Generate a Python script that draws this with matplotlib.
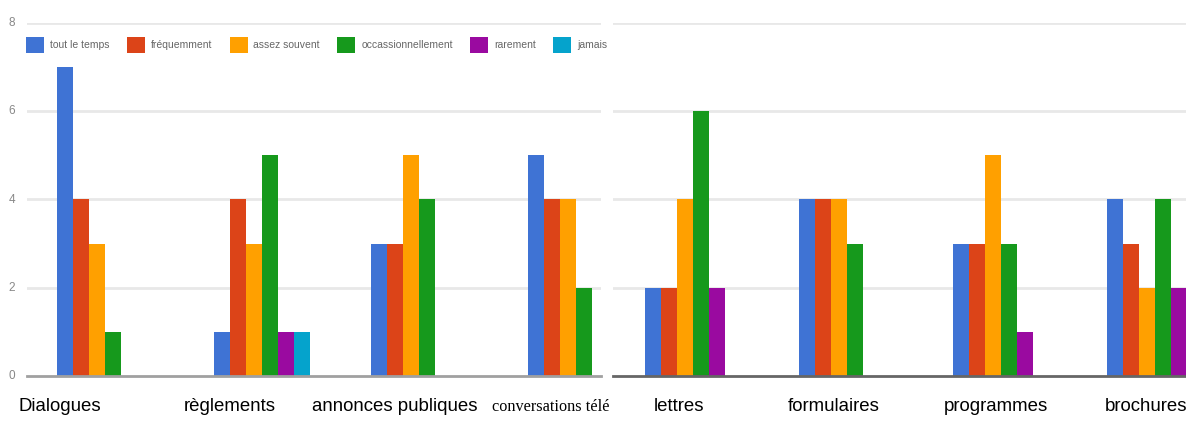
import matplotlib
matplotlib.use("Agg")
import matplotlib.pyplot as plt
from matplotlib.patches import Patch
import numpy as np

# ---------------- data ----------------
series = ["tout le temps", "fréquemment", "assez souvent",
          "occassionnellement", "rarement", "jamais"]
colors = ["#3f73d4", "#dc4418", "#ffa000", "#16991c", "#9a0aa0", "#05a3cc"]

left_categories = ["Dialogues", "règlements", "annonces publiques", "conversations télé"]
left_values = [
    [7, 1, 3, 5],   # tout le temps
    [4, 4, 3, 4],   # fréquemment
    [3, 3, 5, 4],   # assez souvent
    [1, 5, 4, 2],   # occassionnellement
    [0, 1, 0, 0],   # rarement
    [0, 1, 0, 0],   # jamais
]

right_categories = ["lettres", "formulaires", "programmes", "brochures"]
right_values = [
    [2, 4, 3, 4],   # tout le temps
    [2, 4, 3, 3],   # fréquemment
    [4, 4, 5, 2],   # assez souvent
    [6, 3, 3, 4],   # occassionnellement
    [2, 0, 1, 2],   # rarement
    [0, 0, 0, 0],   # jamais
]

y_ticks = [0, 2, 4, 6, 8]

# ---------------- layout ----------------
W, H = 1186, 423
fig = plt.figure(figsize=(W / 100, H / 100), dpi=100)

y0, y1 = 376, 23  # pixel rows for 0 and 8
px_per_unit = (y0 - y1) / 8
narrow = ["Liberation Sans Narrow", "Liberation Sans", "DejaVu Sans"]


def make_axes(x_left, x_right, group_start, spacing, bar_px, cats, vals,
              label_offsets, label_fonts, base_color):
    ax = fig.add_axes([x_left / W, (H - y0) / H, (x_right - x_left) / W, (y0 - y1) / H])
    n = len(vals)
    width = bar_px / spacing
    center_px = group_start + n * bar_px / 2
    ax.set_xlim((x_left - center_px) / spacing, (x_right - center_px) / spacing)
    ax.set_ylim(0, 8)
    x = np.arange(len(cats))
    for j, v in enumerate(vals):
        ax.bar(x - n * width / 2 + (j + 0.5) * width, v, width=width,
               color=colors[j], linewidth=0, zorder=3)
    for t in y_ticks[1:]:
        ax.axhline(t, color="#e8e8e8", lw=2, zorder=1)
    ax.axhline(0, color=base_color, lw=2, zorder=4, clip_on=False)
    for s in ax.spines.values():
        s.set_visible(False)
    ax.set_xticks([])
    ax.set_yticks([])
    for i, c in enumerate(cats):
        ax.text(i + label_offsets[i] / spacing, -35 / px_per_unit, c,
                ha="center", va="baseline",
                fontsize=label_fonts[i][1], family=label_fonts[i][0],
                color="black", clip_on=False)
    return ax


sans_lbl = (narrow, 13.4)
serif_lbl = (["Liberation Serif", "DejaVu Serif"], 11.7)

ax1 = make_axes(27, 601, 57, 157, 16, left_categories, left_values,
                [-45, -32, -24, -25], [sans_lbl, sans_lbl, sans_lbl, serif_lbl], "#a0a0a0")
ax2 = make_axes(613, 1186, 645, 154, 16, right_categories, right_values,
                [-14, -13, -5, -9], [sans_lbl] * 4, "#666666")

# y tick labels (left chart only)
for t in y_ticks:
    ax1.text(-0.497 - 15 / 157, t, str(t), ha="center", va="center",
             fontsize=8.5, family=narrow, color="#888888", clip_on=False)

# legend
handles = [Patch(facecolor=c, edgecolor="none") for c in colors]
leg = fig.legend(handles, series, loc="center left", bbox_to_anchor=(19 / W, 1 - 45 / H),
                 ncol=6, frameon=False, handlelength=1.73, handleheight=1.9,
                 handletextpad=0.55, columnspacing=1.68, borderpad=0.2,
                 prop={"family": narrow, "size": 7.5})
for txt in leg.get_texts():
    txt.set_color("#666666")

fig.savefig("out.png", dpi=100, facecolor="white")
